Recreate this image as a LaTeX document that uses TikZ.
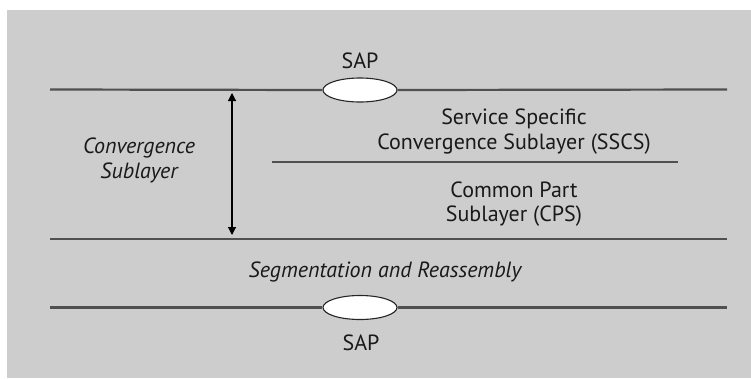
\documentclass[tikz,border=0pt]{standalone}
\usepackage{fontspec}
\setmainfont{PT Sans}
\usetikzlibrary{shapes.geometric,arrows.meta}
\definecolor{bg}{HTML}{CDCDCD}
\definecolor{ln}{HTML}{505050}
\tikzset{
  layerline/.style={draw=ln, line width=2.2pt},
  sap/.style={ellipse, draw=black!85, line width=1.1pt, fill=white, minimum width=74pt, minimum height=24pt, inner sep=0pt},
  lbl/.style={font=\fontsize{22}{25}\selectfont, text=black!90, inner sep=0pt, anchor=base},
  ilbl/.style={lbl, font=\fontsize{22}{25}\selectfont\itshape},
}
\begin{document}
\begin{tikzpicture}[x=1pt,y=-1pt]
\useasboundingbox (0,0) rectangle (751,378);
\fill[white] (0,0) rectangle (751,378);
\fill[bg] (7,10) rectangle (751,378);
% top line
\coordinate (t1) at (50,89.5);
\coordinate (t2) at (727,89.5);
\node[sap] (sapT) at (360,90) {};
\draw[layerline] (t1) -- (sapT.west);
\draw[layerline] (sapT.east) -- (t2);
\node[lbl] (sapTl) at (360,68) {SAP};
% middle line
\coordinate (m1) at (272,162);
\coordinate (m2) at (678,162);
\draw[layerline] (m1) -- (m2);
% convergence bottom line
\coordinate (c1) at (50,239);
\coordinate (c2) at (727,239);
\draw[layerline] (c1) -- (c2);
% bottom line
\coordinate (b1) at (50,307.5);
\coordinate (b2) at (727,307.5);
\node[sap] (sapB) at (360,307.5) {};
\draw[layerline] (b1) -- (sapB.west);
\draw[layerline] (sapB.east) -- (b2);
\node[lbl] (sapBl) at (361,350) {SAP};
% arrow
\coordinate (a1) at (232,93);
\coordinate (a2) at (232,235);
\draw[draw=black, line width=1.1pt, {Triangle[length=8pt,width=8pt]}-{Triangle[length=8pt,width=8pt]}] (a1) -- (a2);
% texts
\node[lbl] (sscs1) at (514,124) {Service Specific};
\node[lbl] (sscs2) at (514,149) {Convergence Sublayer (SSCS)};
\node[lbl] (cps1) at (514,197) {Common Part};
\node[lbl] (cps2) at (514,221) {Sublayer (CPS)};
\node[ilbl] (cs1) at (139,153) {Convergence};
\node[ilbl] (cs2) at (139,178) {Sublayer};
\node[ilbl] (sar) at (385,277) {Segmentation and Reassembly};
\end{tikzpicture}
\end{document}
